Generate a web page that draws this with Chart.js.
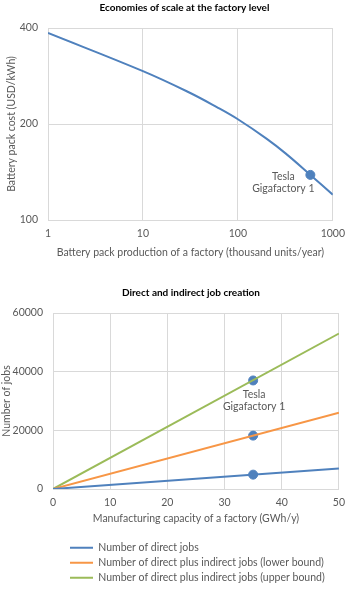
<!DOCTYPE html>
<html>
<head>
<meta charset="utf-8">
<script src="https://cdn.jsdelivr.net/npm/chart.js@4"></script>
<style>
  body { margin: 0; background: #fff; }
  #top { position: absolute; left: 0; top: 0; width: 352px; height: 268px; }
  #bottom { position: absolute; left: 0; top: 272px; width: 352px; height: 317px; }
</style>
</head>
<body>
<div id="top"><canvas id="costChart"></canvas></div>
<div id="bottom"><canvas id="jobsChart"></canvas></div>
<script>
// Economies of scale at the factory level (log-log)
const productionK = [1, 10, 30, 60, 100, 200, 320, 580, 1000];
const packCost = [386, 293, 252, 226, 207, 180, 161.5, 138.5, 120];
const productionTicks = [1, 10, 100, 1000];
const costTicks = [100, 200, 400];
const teslaProduction = 580;
const teslaCost = 138.5;

// Direct and indirect job creation
const capacity = [0, 50];
const directJobs = [0, 7000];
const lowerBoundJobs = [0, 26000];
const upperBoundJobs = [0, 53000];
const teslaCapacity = 35;
const teslaJobs = [4900, 18200, 37000];
const seriesNames = [
  'Number of direct jobs',
  'Number of direct plus indirect jobs (lower bound)',
  'Number of direct plus indirect jobs (upper bound)'
];
const teslaLabel = ['Tesla', 'Gigafactory 1'];

const BLUE = '#4f81bd', ORANGE = '#f79646', GREEN = '#9bbb59';
const GRID = '#d9d9d9', TEXT = '#595959';

Chart.defaults.font.family = 'Lato';
Chart.defaults.font.size = 10.5;
Chart.defaults.color = TEXT;

// etiqueta "Tesla Gigafactory 1" junto al punto
const teslaLabelPlugin = {
  id: 'teslaLabel',
  afterDatasetsDraw(chart, args, opts) {
    const pt = chart.getDatasetMeta(opts.dataset).data[opts.index];
    const ctx = chart.ctx;
    ctx.save();
    ctx.font = '10.5px Lato';
    ctx.fillStyle = TEXT;
    ctx.textAlign = 'center';
    ctx.textBaseline = 'middle';
    teslaLabel.forEach((t, i) => ctx.fillText(t, pt.x + opts.dx, pt.y + opts.dy + i * 12));
    ctx.restore();
  }
};

// ajustes de posición: título un poco a la izquierda, leyenda alineada como en Excel
const boxShift = {
  id: 'boxShift',
  afterLayout(chart, args, opts) {
    if (chart.titleBlock) chart.titleBlock.left -= opts.title || 0;
    if (chart.legend && opts.legendLeft !== undefined) {
      chart.legend.left = opts.legendLeft;
      chart.legend.top += opts.legendDown;
    }
  }
};

const pairs = (xs, ys) => xs.map((x, i) => ({ x: x, y: ys[i] }));

new Chart(document.getElementById('costChart'), {
  type: 'line',
  data: {
    datasets: [{
      data: pairs(productionK, packCost),
      borderColor: BLUE,
      borderWidth: 2,
      pointRadius: 0,
      tension: 0.4
    }, {
      data: [{ x: teslaProduction, y: teslaCost }],
      backgroundColor: BLUE,
      borderColor: BLUE,
      pointRadius: 4.5,
      showLine: false
    }]
  },
  options: {
    responsive: true,
    maintainAspectRatio: false,
    animation: false,
    layout: { padding: { left: 0, right: 14, bottom: 0 } },
    plugins: {
      legend: { display: false },
      tooltip: { enabled: false },
      title: {
        display: true,
        text: 'Economies of scale at the factory level',
        fullSize: false,
        color: '#000',
        font: { size: 10, weight: 'bold' },
        padding: { top: 2, bottom: 14 }
      },
      teslaLabel: { dataset: 1, index: 0, dx: -27, dy: 2 },
      boxShift: { title: 12 }
    },
    scales: {
      x: {
        type: 'logarithmic',
        min: 1,
        max: 1000,
        afterBuildTicks: s => { s.ticks = productionTicks.map(v => ({ value: v })); },
        afterFit: s => { s.height = 48; },
        ticks: { callback: v => String(v), maxRotation: 0, padding: 7 },
        grid: { color: GRID, drawTicks: false },
        border: { color: GRID },
        title: {
          display: true,
          text: 'Battery pack production of a factory (thousand units/year)',
          padding: { top: 0, bottom: 8.7 }
        }
      },
      y: {
        type: 'logarithmic',
        min: 100,
        max: 400,
        afterBuildTicks: s => { s.ticks = costTicks.map(v => ({ value: v })); },
        afterFit: s => { s.width = 48; },
        ticks: { callback: v => String(v), padding: 10 },
        grid: { color: GRID, drawTicks: false },
        border: { color: GRID },
        title: {
          display: true,
          text: 'Battery pack cost (USD/kWh)',
          padding: { top: 5.7, bottom: 0 }
        }
      }
    }
  },
  plugins: [teslaLabelPlugin, boxShift]
});

new Chart(document.getElementById('jobsChart'), {
  type: 'line',
  data: {
    datasets: [{
      label: seriesNames[0],
      data: pairs(capacity, directJobs),
      borderColor: BLUE,
      backgroundColor: BLUE,
      borderWidth: 2,
      pointRadius: 0
    }, {
      label: seriesNames[1],
      data: pairs(capacity, lowerBoundJobs),
      borderColor: ORANGE,
      backgroundColor: ORANGE,
      borderWidth: 2,
      pointRadius: 0
    }, {
      label: seriesNames[2],
      data: pairs(capacity, upperBoundJobs),
      borderColor: GREEN,
      backgroundColor: GREEN,
      borderWidth: 2,
      pointRadius: 0
    }, {
      label: 'Tesla',
      data: teslaJobs.map(v => ({ x: teslaCapacity, y: v })),
      backgroundColor: BLUE,
      borderColor: BLUE,
      pointRadius: 4.5,
      showLine: false
    }]
  },
  options: {
    responsive: true,
    maintainAspectRatio: false,
    animation: false,
    layout: { padding: { left: 0, right: 10, bottom: 0 } },
    plugins: {
      tooltip: { enabled: false },
      title: {
        display: true,
        text: 'Direct and indirect job creation',
        fullSize: false,
        color: '#000',
        font: { size: 10, weight: 'bold' },
        padding: { top: 15, bottom: 14 }
      },
      legend: {
        position: 'bottom',
        align: 'start',
        labels: {
          usePointStyle: true,
          pointStyle: 'line',
          pointStyleWidth: 23,
          padding: 4.5,
          color: TEXT,
          filter: item => item.datasetIndex < 3
        }
      },
      teslaLabel: { dataset: 3, index: 2, dx: 1, dy: 14 },
      boxShift: { title: 10, legendLeft: 65.5, legendDown: 4 }
    },
    scales: {
      x: {
        type: 'linear',
        min: 0,
        max: 50,
        afterFit: s => { s.height = 45; },
        ticks: { stepSize: 10, maxRotation: 0, padding: 7 },
        grid: { color: GRID, drawTicks: false },
        border: { color: GRID },
        title: {
          display: true,
          text: 'Manufacturing capacity of a factory (GWh/y)',
          padding: { top: 0, bottom: 8.7 }
        }
      },
      y: {
        min: 0,
        max: 60000,
        afterFit: s => { s.width = 53; },
        ticks: { stepSize: 20000, padding: 10, callback: v => String(v) },
        grid: { color: GRID, drawTicks: false },
        border: { color: GRID },
        title: {
          display: true,
          text: 'Number of jobs',
          padding: { top: 0, bottom: 0 }
        }
      }
    }
  },
  plugins: [teslaLabelPlugin, boxShift]
});
</script>
</body>
</html>
